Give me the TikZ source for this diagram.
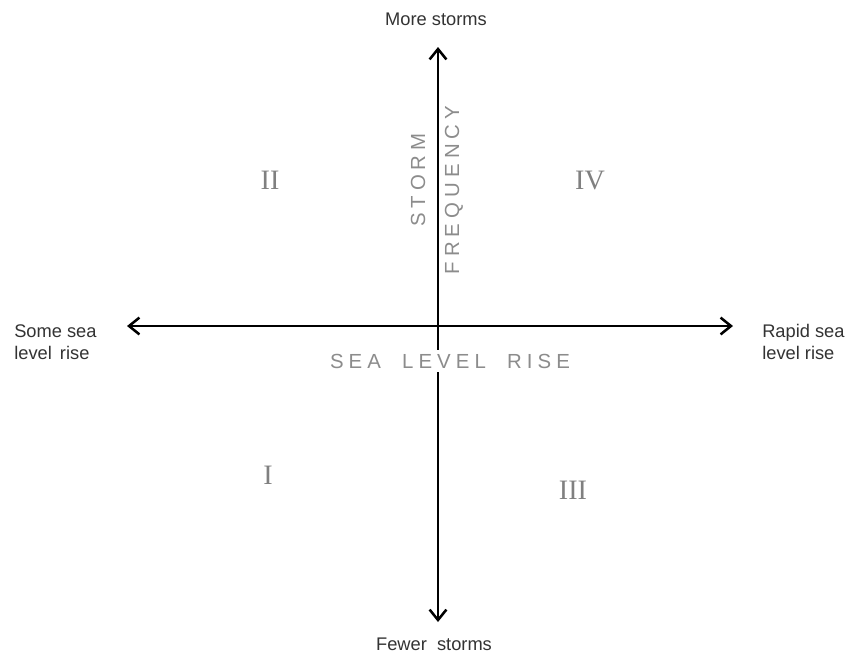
\documentclass[tikz,border=0pt]{standalone}
\usepackage{fontspec}
\setsansfont{Liberation Sans}
\newfontfamily\romanfont{Liberation Serif}
\newfontfamily\spacedfont[LetterSpace=25]{Liberation Sans}
\usepackage{tikz}
\usetikzlibrary{arrows.meta}

\tikzset{
  endlabel/.style={font=\sffamily\fontsize{13}{16}\selectfont, text=black!80, align=left, inner sep=0pt},
  axislabel/.style={font=\spacedfont\fontsize{14.5}{16}\selectfont, text=black!45, inner sep=1pt},
  quadrant/.style={font=\romanfont\fontsize{20}{22}\selectfont, text=black!50},
  axis/.style={line width=1.5pt, {Straight Barb[length=2.6mm,width=4.2mm,line width=1.8pt]}-{Straight Barb[length=2.6mm,width=4.2mm,line width=1.8pt]}}
}

\begin{document}
\begin{tikzpicture}[x=0.025cm, y=-0.025cm]
  \useasboundingbox (0,0) rectangle (847,667);
  % Axis ends
  \coordinate (stormtop) at (438,47);
  \coordinate (stormbot) at (438,622);
  \coordinate (sealeft) at (127,326);
  \coordinate (searight) at (733,326);
  % Axes
  \draw[axis] (stormbot) -- (stormtop);
  \draw[axis] (sealeft) -- (searight);
  % Axis titles
  \node[axislabel, fill=white, inner ysep=3pt] (sealevel) at (450,361) {SEA\hspace{15pt}LEVEL\hspace{15pt}RISE};
  \node[axislabel, rotate=90] (storm) at (418,180) {STORM};
  \node[axislabel, rotate=90] (frequency) at (454,190) {FREQUENCY};
  % End labels
  \node[endlabel, anchor=base] (more) at (436,25) {More storms};
  \node[endlabel, anchor=base] (fewer) at (434,650) {Fewer\ \ storms};
  \node[endlabel, anchor=west] (some) at (14,342) {Some sea\\level\ \,rise};
  \node[endlabel, anchor=west] (rapid) at (762,342) {Rapid sea\\level rise};
  % Quadrants
  \node[quadrant] (q2) at (270,180) {II};
  \node[quadrant] (q4) at (590,180) {IV};
  \node[quadrant] (q1) at (268,475) {I};
  \node[quadrant] (q3) at (573,490) {III};
\end{tikzpicture}
\end{document}
